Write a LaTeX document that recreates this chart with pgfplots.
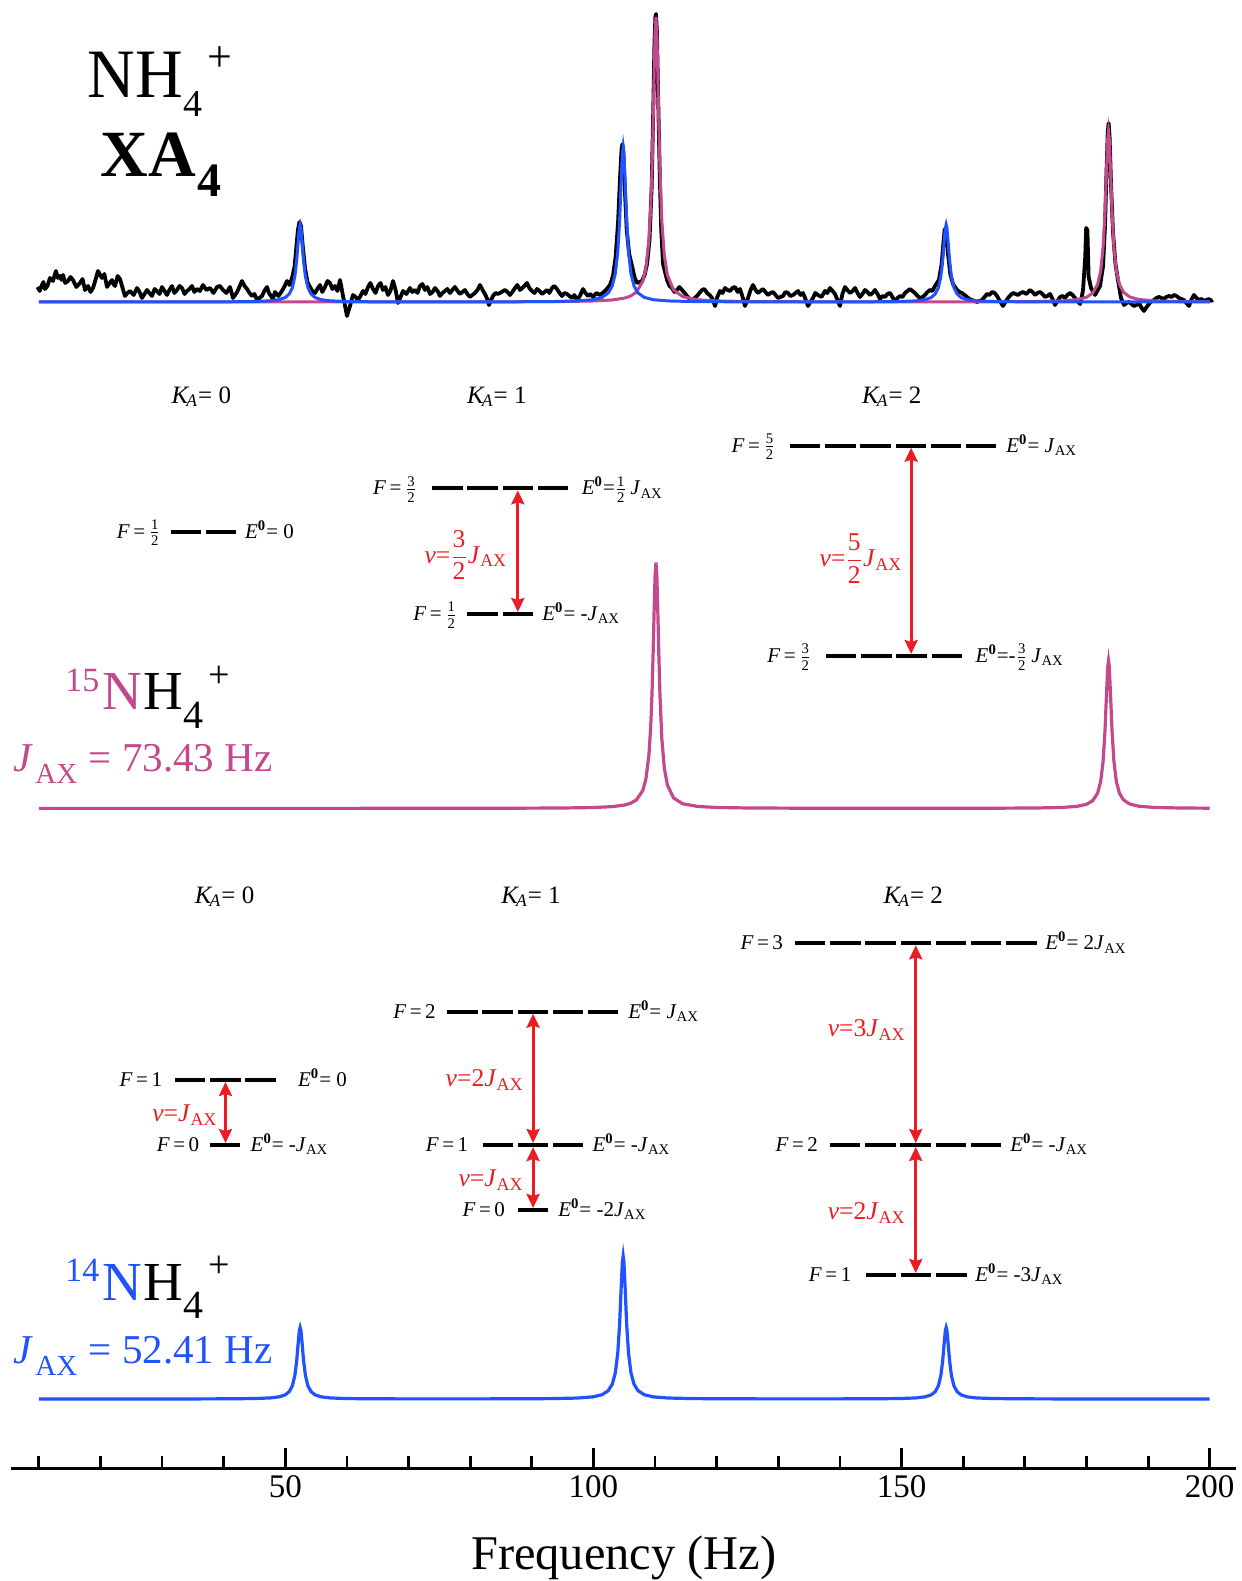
\documentclass[border=0pt]{standalone}
\usepackage{amsmath}
\usepackage{fontspec}
\setmainfont{Liberation Serif}
\usepackage{graphicx}
\usepackage{pgfplots}
\pgfplotsset{compat=1.18}
\usepackage{pgfplotstable}
\usetikzlibrary{arrows.meta}

\definecolor{nmag}{RGB}{196,72,140}
\definecolor{nblue}{RGB}{33,82,255}
\definecolor{nred}{RGB}{236,28,36}

\newcommand{\fs}[1]{\fontsize{#1}{#1}\selectfont}
\newcommand{\Eo}{\textit{E}\textsuperscript{\textbf{0}}}
\newcommand{\Jx}{\textit{J}\textsubscript{AX}}
\newcommand{\Ka}{\textit{K}\kern-0.12em\textsubscript{\textit{A}}}
\newcommand{\hf}[2]{$\tfrac{\text{#1}}{\text{#2}}$}

% 15N-H4+ spectrum, Lorentzian lines (normalised to the 3/2 J line)
\pgfplotstableread{
hz v
10 0.00005
30 0.00006
50 0.00011
70 0.00024
85 0.00059
95 0.00159
100 0.00352
103 0.00703
105 0.01345
106 0.02055
107 0.03515
108 0.0726
108.5 0.1174
109 0.2154
109.3 0.3352
109.5 0.4639
109.7 0.6452
109.85 0.8054
110.0 0.9449
110.145 1.0
110.3 0.9375
110.45 0.7947
110.6 0.6349
110.8 0.4563
111.1 0.2830
111.5 0.1639
112 0.0947
113 0.0423
114.5 0.01862
117 0.00765
120 0.00375
125 0.00169
135 0.00067
150 0.00042
165 0.00075
172 0.0017
176 0.00382
178.5 0.00835
180 0.01652
181 0.0310
181.8 0.0615
182.3 0.1088
182.7 0.1919
183.0 0.3128
183.25 0.4639
183.45 0.5751
183.575 0.6
183.7 0.5751
183.9 0.4639
184.15 0.3128
184.45 0.1919
184.85 0.1088
185.35 0.0615
186 0.0347
187 0.0179
188.5 0.0088
191 0.0039
195 0.0017
200 0.0008
}\tblfifteen

% 14N-H4+ spectrum (normalised to the 2 J line)
\pgfplotstableread{
hz v
10 0.0001
25 0.00024
36 0.00067
41 0.00138
45 0.00326
47.5 0.00736
49 0.0150
50 0.0292
50.65 0.0521
51.15 0.0924
51.55 0.1636
51.85 0.2672
52.1 0.3947
52.28 0.4776
52.41 0.5
52.54 0.4776
52.72 0.3947
52.97 0.2672
53.27 0.1636
53.67 0.0924
54.17 0.0521
54.82 0.0292
55.82 0.0150
57.32 0.00736
59.82 0.00326
63.82 0.00138
70 0.00088
80 0.00082
88 0.00141
93.4 0.00285
97.4 0.0066
99.9 0.0147
101.4 0.0299
102.4 0.0579
103.05 0.1031
103.55 0.1825
103.95 0.3223
104.25 0.5256
104.5 0.7785
104.69 0.9552
104.82 1.0
104.95 0.9552
105.14 0.7785
105.39 0.5256
105.69 0.3223
106.09 0.1825
106.59 0.1031
107.24 0.0579
108.24 0.0299
109.74 0.0147
112.24 0.0066
116.24 0.00285
122 0.00136
130 0.00081
138 0.00081
145.8 0.00158
149.8 0.0034
152.3 0.0073
153.8 0.0149
154.8 0.0287
155.46 0.0516
155.96 0.0913
156.36 0.1612
156.66 0.2628
156.91 0.3893
157.1 0.4776
157.23 0.5
157.36 0.4776
157.55 0.3893
157.8 0.2628
158.1 0.1612
158.5 0.0913
159.0 0.0516
159.66 0.0287
160.66 0.0149
162.16 0.0073
164.66 0.0034
168.66 0.0014
176 0.00051
188 0.00019
200 0.0001
}\tblfourteen

% measured XA4 spectrum (intensity above the fitted baseline)
\pgfplotstableread{
hz v
9.8 15
10.15 11
10.52 17
10.75 20
11.01 13
11.4 16
11.82 24
12.3 21
12.79 31
13.1 24
13.44 26
13.7 22
13.93 27
14.3 19
14.74 21
15.15 25
15.55 22
16.1 15
16.69 19
17.1 23
17.50 12
17.75 14
17.99 16
18.4 10
18.80 14
19.2 22
19.61 31
19.95 27
20.26 24
20.65 28
21.07 15
21.5 19
21.88 22
22.1 18
22.37 16
22.8 26
23.18 23
23.6 14
23.99 6
24.4 9
24.80 11
25.4 7
25.94 14
26.35 10
26.75 4
27.15 8
27.56 12
27.95 9
28.37 6
28.8 13
29.18 11
29.6 8
29.99 15
30.4 11
30.80 7
31.2 12
31.61 16
32.0 9
32.43 12
32.85 16
33.24 14
33.65 8
34.05 11
34.45 13
34.86 16
35.25 10
35.67 13
36.15 11
36.65 17
37.2 12
37.78 14
38.35 9
38.92 15
39.4 16
39.89 12
40.45 9
41.03 15
41.25 10
41.51 4
42.2 10
42.97 21
43.4 16
43.79 13
44.2 9
44.60 6
45.0 8
45.41 2
45.8 4
46.22 6
46.6 11
47.03 15
47.35 9
47.68 6
48.0 3
48.33 10
48.9 6
49.46 11
49.9 16
50.28 21
50.7 17
51.09 24
51.5 35
51.8 55
52.05 72
52.3 80
52.55 76
52.8 58
53.2 34
53.6 20
54.01 15
54.4 11
54.82 9
55.2 13
55.63 17
56.0 10
56.44 15
56.85 21
57.25 19
57.65 13
58.06 16
58.45 11
58.88 22
59.1 15
59.36 6
59.7 -4
60.01 -14
60.25 -9
60.50 -4
60.75 2
60.98 7
61.4 5
61.79 2
62.2 6
62.61 11
63.0 8
63.42 15
63.8 19
64.23 13
64.65 9
65.04 16
65.45 19
65.85 12
66.25 15
66.66 7
67.05 11
67.48 21
67.9 12
68.29 -1
68.7 5
69.10 11
69.65 8
70.23 14
70.6 10
71.04 12
71.45 9
71.85 16
72.25 18
72.66 12
73.05 15
73.48 8
73.9 10
74.29 14
74.7 11
75.10 6
75.5 9
75.91 11
76.3 13
76.72 9
77.1 12
77.53 15
77.95 11
78.34 8
78.75 10
79.15 12
79.55 8
79.96 5
80.35 7
80.77 9
81.2 12
81.59 17
82.0 12
82.40 8
82.7 4
83.05 -3
83.4 2
83.70 6
84.1 9
84.51 8
85.1 10
85.64 12
86.05 10
86.46 7
86.85 10
87.27 14
87.65 17
88.08 12
88.65 15
89.22 19
89.6 14
90.03 11
90.45 9
90.84 13
91.25 11
91.65 8
92.05 10
92.46 12
92.85 9
93.27 14
93.65 16
94.08 13
94.5 9
94.90 6
95.3 9
95.71 8
96.1 6
96.52 4
96.9 7
97.33 2
97.8 6
98.30 13
98.7 9
99.11 6
99.5 8
99.92 5
100.5 9
101.06 7
101.5 9
101.87 11
102.3 14
102.68 17
103.17 26
103.6 45
104.0 80
104.3 122
104.55 152
104.7 158
104.85 150
105.1 112
105.4 72
105.8 48
106.26 36
106.7 24
107.07 19
107.5 20
107.88 21
108.3 27
108.7 38
109.1 62
109.45 115
109.7 190
109.9 258
110.05 285
110.15 288
110.3 270
110.5 205
110.75 130
111.0 72
111.29 38
111.94 22
112.35 16
112.75 14
113.15 10
113.56 12
113.95 15
114.37 12
114.8 9
115.18 6
115.6 3
115.99 1
116.4 4
116.81 6
117.2 9
117.62 12
118.0 13
118.43 9
118.85 7
119.24 4
119.5 0
119.73 -4
120.1 5
120.54 11
120.95 9
121.35 14
121.75 12
122.16 11
122.55 14
122.97 15
123.4 10
123.78 13
124.2 5
124.59 -4
124.85 0
125.08 4
125.5 12
125.89 17
126.3 12
126.70 9
127.1 11
127.51 13
127.9 10
128.33 7
128.75 9
129.14 10
129.55 7
129.95 4
130.35 5
130.76 6
131.15 10
131.57 9
131.95 6
132.38 7
132.8 9
133.19 11
133.6 7
134.00 9
134.4 3
134.81 -4
135.2 0
135.62 4
136.0 9
136.43 7
137.0 5
137.57 11
137.95 9
138.38 14
138.8 11
139.19 8
139.6 2
140.00 -4
140.4 8
140.82 15
141.2 12
141.63 9
142.05 11
142.44 14
142.85 9
143.25 5
143.65 8
144.06 12
144.45 10
144.87 7
145.3 9
145.68 12
146.1 8
146.49 3
146.9 6
147.30 5
147.7 8
148.12 9
148.5 5
148.93 1
149.35 4
149.74 6
150.15 5
150.55 9
150.95 11
151.36 13
151.75 11
152.17 9
152.6 6
152.98 4
153.4 5
153.79 7
154.2 10
154.60 12
155.0 11
155.42 16
156.06 22
156.5 38
156.8 60
157.0 73
157.2 70
157.5 50
157.9 28
158.34 18
158.99 12
159.4 10
159.80 9
160.2 7
160.61 5
161.0 3
161.42 2
161.85 1
162.24 0
162.65 1
163.05 2
163.45 5
163.86 8
164.25 7
164.67 10
165.1 9
165.48 6
165.95 1
166.45 -4
166.85 0
167.27 4
167.7 7
168.08 9
168.5 8
168.89 7
169.3 9
169.70 10
170.25 8
170.84 12
171.25 10
171.65 7
172.05 9
172.46 10
172.85 8
173.27 5
173.65 6
174.08 8
174.5 3
174.90 -3
175.3 1
175.71 5
176.1 6
176.52 4
176.9 7
177.33 9
177.75 7
178.14 4
178.55 1
178.95 -2
179.2 4
179.44 12
179.8 45
179.95 74
180.15 72
180.35 25
180.74 14
181.39 7
182.20 16
182.69 36
183.0 75
183.25 130
183.45 170
183.6 179
183.75 165
184.0 115
184.3 70
184.7 38
185.11 22
185.60 4
186.09 -3
186.5 -1
186.90 0
187.3 -2
187.71 -4
188.1 -3
188.52 -1
188.95 -6
189.33 -9
189.75 -5
190.14 -2
190.55 1
190.95 2
191.35 4
191.76 5
192.15 4
192.57 3
192.95 5
193.38 6
193.8 5
194.20 7
194.6 6
195.01 4
195.4 3
195.82 2
196.2 -1
196.63 -4
197.0 2
197.44 7
197.85 4
198.25 2
198.65 3
199.06 1
199.45 2
199.87 3
200.2 1
200.52 2
}\tblexp

\begin{document}
\begin{tikzpicture}[
  level/.style={line width=2pt, dash pattern=on 15.2pt off 2.4pt},
  trans/.style={nred, line width=1.5pt,
    {Stealth[length=7pt,width=6.5pt,inset=1pt]}-{Stealth[length=7pt,width=6.5pt,inset=1pt]}},
  lab/.style={inner sep=0pt, font=\fs{10.5}},
  klab/.style={inner sep=0pt, font=\fs{12.5}},
  nulab/.style={inner sep=0pt, font=\fs{12.8}, text=nred},
  txt/.style={inner sep=0pt, anchor=base west},
]
\begin{axis}[
  x=3.0815pt, y=0.5pt,
  xmin=5.5, xmax=204.3, ymin=-1468, ymax=0,
  axis x line=bottom, axis y line=none,
  x axis line style={line width=1.5pt,-},
  xtick={50,100,150,200},
  minor xtick={10,20,30,40,60,70,80,90,110,120,130,140,160,170,180,190},
  tick align=inside,
  major tick length=10pt, minor tick length=6pt,
  tick style={black, line width=1.4pt},
  xticklabel style={font=\fs{16.5}},
  /pgf/number format/assume math mode=true,
  xlabel={Frequency (Hz)},
  xlabel style={at={(axis description cs:0.5,0)}, anchor=base, inner sep=0pt,
    yshift=-50.5pt, font=\fs{24.2}},
  clip=false,
]
% page extent
\path (axis cs:3.71,-1581) rectangle (axis cs:205.07,0);

% measured spectrum with the two fitted isotopologue spectra
\addplot[black, line width=1.9pt, line join=round] table[x=hz, y expr={\thisrow{v}-302}] {\tblexp};
\addplot[nmag, line width=1.5pt] table[x=hz, y expr={\thisrow{v}*285-302}] {\tblfifteen};
\addplot[nblue, line width=1.5pt] table[x=hz, y expr={\thisrow{v}*155-302}] {\tblfourteen};

% 15N spectrum
\addplot[nmag, line width=1.6pt] table[x=hz, y expr={\thisrow{v}*246-808.4}] {\tblfifteen};

% 14N spectrum
\addplot[nblue, line width=1.6pt] table[x=hz, y expr={\thisrow{v}*143-1399}] {\tblfourteen};

% title
\node[txt, font=\fs{33}] at (axis cs:17.82,-98) {\scalebox{1}[1.05]{NH}};
\node[txt, font=\fs{19}] at (axis cs:33.40,-117) {4};
\node[txt, font=\fs{22}] at (axis cs:37.29,-72) {+};
\node[txt, font=\fs{33}\bfseries] at (axis cs:19.93,-177) {XA};
\node[txt, font=\fs{24}\bfseries] at (axis cs:35.67,-197) {4};

% 15N label
\node[txt, font=\fs{17}, text=nmag] at (axis cs:14.25,-691.7) {15};
\node[txt, font=\fs{27.5}, text=nmag] at (axis cs:20.21,-710) {N};
\node[txt, font=\fs{27.5}] at (axis cs:26.86,-710) {H};
\node[txt, font=\fs{20}] at (axis cs:33.40,-728.3) {4};
\node[txt, font=\fs{19}] at (axis cs:37.46,-687.5) {+};
\node[txt, font=\fs{20.5}\itshape, text=nmag] at (axis cs:5.82,-771.7) {J};
\node[txt, font=\fs{14.5}, text=nmag] at (axis cs:9.39,-783.3) {AX};
\node[txt, font=\fs{20.5}, text=nmag] at (axis cs:18.03,-771.7) {= 73.43 Hz};

% 14N label
\node[txt, font=\fs{17}, text=nblue] at (axis cs:14.25,-1281.7) {14};
\node[txt, font=\fs{27.5}, text=nblue] at (axis cs:20.21,-1300) {N};
\node[txt, font=\fs{27.5}] at (axis cs:26.86,-1300) {H};
\node[txt, font=\fs{20}] at (axis cs:33.40,-1318.3) {4};
\node[txt, font=\fs{19}] at (axis cs:37.46,-1277) {+};
\node[txt, font=\fs{20.5}\itshape, text=nblue] at (axis cs:5.82,-1363.3) {J};
\node[txt, font=\fs{14.5}, text=nblue] at (axis cs:9.39,-1375) {AX};
\node[txt, font=\fs{20.5}, text=nblue] at (axis cs:18.03,-1363.3) {= 52.41 Hz};

% ---- 15N level diagram ----
\node[klab, anchor=base] at (axis cs:36.39,-403.3) {\Ka= 0};
\node[klab, anchor=base] at (axis cs:84.33,-403.3) {\Ka= 1};
\node[klab, anchor=base] at (axis cs:148.40,-403.3) {\Ka= 2};

\draw[level] (axis cs:31.42,-531.7) -- (axis cs:42.06,-531.7);
\node[lab, anchor=base east] at (axis cs:29.86,-538.2) {\textit{F}\,=\,\hf{1}{2}};
\node[lab, anchor=base west] at (axis cs:43.41,-538.2) {\Eo= 0};

\draw[level] (axis cs:73.84,-488.3) -- (axis cs:95.91,-488.3);
\node[lab, anchor=base east] at (axis cs:71.47,-494.8) {\textit{F}\,=\,\hf{3}{2}};
\node[lab, anchor=base west] at (axis cs:98.05,-494.8) {\Eo=\hf{1}{2}\,\Jx};
\draw[level] (axis cs:79.55,-614) -- (axis cs:90.19,-614);
\node[lab, anchor=base east] at (axis cs:77.99,-620.5) {\textit{F}\,=\,\hf{1}{2}};
\node[lab, anchor=base west] at (axis cs:91.65,-620.5) {\Eo= -\Jx};
\draw[trans] (axis cs:87.73,-490.3) -- (axis cs:87.73,-612);
\node[nulab, anchor=east] at (axis cs:86.07,-555) {\textit{ν}=$\dfrac{\text{3}}{\text{2}}$\Jx};

\draw[level] (axis cs:131.89,-445.7) -- (axis cs:165.38,-445.7);
\node[lab, anchor=base east] at (axis cs:129.62,-452.2) {\textit{F}\,=\,\hf{5}{2}};
\node[lab, anchor=base west] at (axis cs:166.94,-452.2) {\Eo= \Jx};
\draw[level] (axis cs:137.73,-656) -- (axis cs:159.80,-656);
\node[lab, anchor=base east] at (axis cs:135.41,-662.5) {\textit{F}\,=\,\hf{3}{2}};
\node[lab, anchor=base west] at (axis cs:161.96,-662.5) {\Eo=-\hf{3}{2}\,\Jx};
\draw[trans] (axis cs:151.55,-447.7) -- (axis cs:151.55,-654);
\node[nulab, anchor=east] at (axis cs:150.18,-558.3) {\textit{ν}=$\dfrac{\text{5}}{\text{2}}$\Jx};

% ---- 14N level diagram ----
\node[klab, anchor=base] at (axis cs:40.15,-903.3) {\Ka= 0};
\node[klab, anchor=base] at (axis cs:89.87,-903.3) {\Ka= 1};
\node[klab, anchor=base] at (axis cs:151.90,-903.3) {\Ka= 2};

\draw[level] (axis cs:32.12,-1080) -- (axis cs:48.48,-1080);
\node[lab, anchor=base east] at (axis cs:30.07,-1086.5) {\textit{F}\,=\,1};
\node[lab, anchor=base west] at (axis cs:52.01,-1086.5) {\Eo= 0};
\draw[level] (axis cs:37.78,-1145) -- (axis cs:42.71,-1145);
\node[lab, anchor=base east] at (axis cs:36.09,-1151.5) {\textit{F}\,=\,0};
\node[lab, anchor=base west] at (axis cs:44.32,-1151.5) {\Eo= -\Jx};
\draw[trans] (axis cs:40.30,-1082) -- (axis cs:40.30,-1143);
\node[nulab, anchor=east] at (axis cs:39.05,-1115) {\textit{ν}=\Jx};

\draw[level] (axis cs:76.27,-1011.7) -- (axis cs:104.05,-1011.7);
\node[lab, anchor=base east] at (axis cs:74.47,-1018.2) {\textit{F}\,=\,2};
\node[lab, anchor=base west] at (axis cs:105.59,-1018.2) {\Eo= \Jx};
\draw[level] (axis cs:82.03,-1145) -- (axis cs:98.39,-1145);
\node[lab, anchor=base east] at (axis cs:79.73,-1151.5) {\textit{F}\,=\,1};
\node[lab, anchor=base west] at (axis cs:99.81,-1151.5) {\Eo= -\Jx};
\draw[level] (axis cs:87.76,-1210) -- (axis cs:92.69,-1210);
\node[lab, anchor=base east] at (axis cs:85.70,-1216.5) {\textit{F}\,=\,0};
\node[lab, anchor=base west] at (axis cs:94.23,-1216.5) {\Eo= -2\Jx};
\draw[trans] (axis cs:90.21,-1013.7) -- (axis cs:90.21,-1143);
\draw[trans] (axis cs:90.21,-1147) -- (axis cs:90.21,-1208);
\node[nulab, anchor=east] at (axis cs:88.73,-1080) {\textit{ν}=2\Jx};
\node[nulab, anchor=east] at (axis cs:88.73,-1180) {\textit{ν}=\Jx};

\draw[level] (axis cs:132.70,-943.3) -- (axis cs:171.90,-943.3);
\node[lab, anchor=base east] at (axis cs:130.81,-949.8) {\textit{F}\,=\,3};
\node[lab, anchor=base west] at (axis cs:173.27,-949.8) {\Eo= 2\Jx};
\draw[level] (axis cs:138.38,-1145) -- (axis cs:166.16,-1145);
\node[lab, anchor=base east] at (axis cs:136.48,-1151.5) {\textit{F}\,=\,2};
\node[lab, anchor=base west] at (axis cs:167.59,-1151.5) {\Eo= -\Jx};
\draw[level] (axis cs:144.18,-1275) -- (axis cs:160.54,-1275);
\node[lab, anchor=base east] at (axis cs:141.90,-1281.5) {\textit{F}\,=\,1};
\node[lab, anchor=base west] at (axis cs:161.91,-1281.5) {\Eo= -3\Jx};
\draw[trans] (axis cs:152.3,-945.3) -- (axis cs:152.3,-1143);
\draw[trans] (axis cs:152.3,-1147) -- (axis cs:152.3,-1273);
\node[nulab, anchor=east] at (axis cs:150.72,-1030) {\textit{ν}=3\Jx};
\node[nulab, anchor=east] at (axis cs:150.72,-1213.3) {\textit{ν}=2\Jx};
\end{axis}
\end{tikzpicture}
\end{document}
